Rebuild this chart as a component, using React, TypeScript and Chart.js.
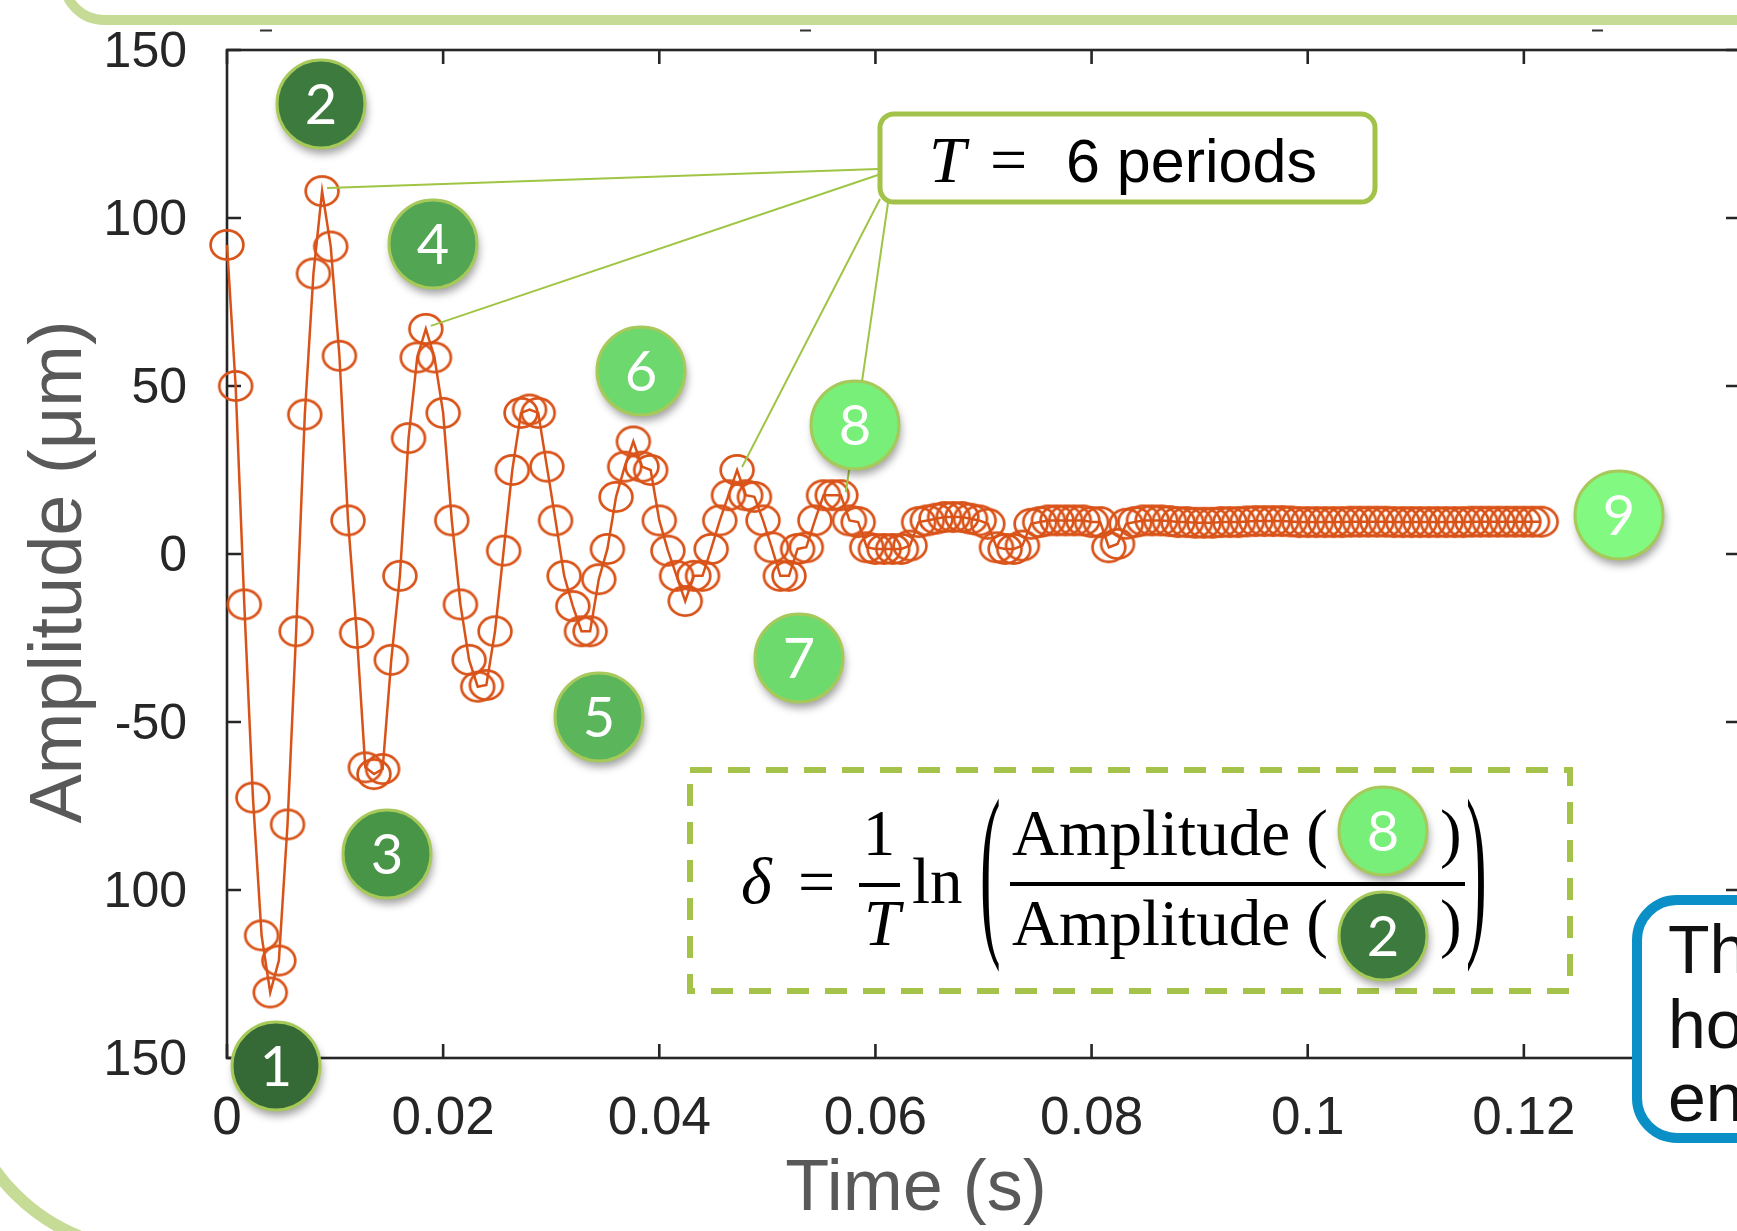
import React, { useEffect, useRef } from "react";
import { Chart, registerables } from "chart.js";

Chart.register(...registerables);

// ---------------- data ----------------
const SAMPLE_PERIOD_S = 0.0008;

const AMPLITUDE_UM: number[] = [
  92, 50, -15, -72.5, -113.5, -130.5, -121, -80.5, -23, 41.5,
  83.5, 108, 91.5, 59, 10, -23.5, -63.5, -65.5, -64, -31.5,
  -6.5, 34.5, 58.5, 67, 58.5, 42, 10, -15, -31.5, -39.5,
  -39, -23, 1, 25, 42, 43, 42, 26, 10, -6.5,
  -15.5, -23, -23, -7.5, 1.5, 17, 26, 33.5, 26, 25,
  10, 1, -6.5, -14, -6.5, -6.5, 1.5, 10, 17.5, 25,
  17.5, 17, 10, 2, -6.5, -6.5, 1.5, 2, 10, 17.5,
  17.5, 17.5, 10, 9.5, 2, 1.5, 1.5, 1.5, 1.5, 2.5,
  9.5, 10, 10.5, 11, 11, 11, 10.5, 10, 9, 2,
  1.5, 1.5, 2.5, 9, 9.5, 10, 10, 10, 10, 10,
  9.5, 9.5, 2, 3, 9, 9.5, 10, 10, 10, 9.8,
  9.5, 9.5, 9.3, 9.3, 9.3, 9.5, 9.5, 9.5, 9.7, 9.8,
  9.8, 9.8, 9.8, 9.7, 9.5, 9.5, 9.5, 9.5, 9.5, 9.5,
  9.6, 9.6, 9.6, 9.6, 9.6, 9.5, 9.5, 9.5, 9.5, 9.5,
  9.5, 9.5, 9.5, 9.5, 9.6, 9.6, 9.6, 9.6, 9.6, 9.6,
  9.6, 9.6, 9.6,
];

const X_TICK_VALUES = [0, 0.02, 0.04, 0.06, 0.08, 0.1, 0.12, 0.14];
const X_TICK_LABELS = ["0", "0.02", "0.04", "0.06", "0.08", "0.1", "0.12", "0.14"];
const Y_TICK_VALUES = [-150, -100, -50, 0, 50, 100, 150];
const Y_TICK_LABELS = ["150", "100", "-50", "0", "50", "100", "150"];

const X_TITLE = "Time (s)";
const Y_TITLE = "Amplitude (μm)";
const PERIOD_TEXT = "6 periods";
const FORMULA_WORD = "Amplitude (";
const SIDE_NOTE_LINES = ["Th", "ho", "en"];

// sample indices the "T = 6 periods" leader lines point to
const PERIOD_PEAK_INDICES = [11, 23, 59, 71];

const BADGE_LABELS = ["1", "2", "3", "4", "5", "6", "7", "8", "9"];

// ---------------- styles ----------------
const ORANGE = "#D95319";
const AXIS = "#262626";
const TITLE_GRAY = "#595959";
const LEAF = "#9FC545";
const PALE_LEAF = "#C6DC96";
const BADGE_FILLS = [
  "#356A36", "#3D7A3E", "#489548", "#52A552", "#5BB55B",
  "#6DD86D", "#6DDA6D", "#78EF78", "#82FA82",
];
const BADGE_POS: [number, number][] = [
  [276, 1066], [321, 104], [387, 854], [433, 244], [599, 717],
  [641, 371], [799, 658], [855, 425], [1619, 515],
];

function makeMarker(): HTMLCanvasElement {
  const c = document.createElement("canvas");
  c.width = 40;
  c.height = 36;
  const g = c.getContext("2d")!;
  g.strokeStyle = ORANGE;
  g.lineWidth = 2.7;
  g.beginPath();
  g.ellipse(20, 18, 16.4, 14.6, 0, 0, Math.PI * 2);
  g.stroke();
  return c;
}

function drawBadge(ctx: CanvasRenderingContext2D, x: number, y: number, fill: string, label: string, r = 44) {
  ctx.save();
  ctx.shadowColor = "rgba(0,0,0,0.38)";
  ctx.shadowBlur = 9;
  ctx.shadowOffsetX = 2;
  ctx.shadowOffsetY = 6;
  ctx.beginPath();
  ctx.ellipse(x, y, r, r, 0, 0, Math.PI * 2);
  ctx.fillStyle = fill;
  ctx.fill();
  ctx.restore();
  ctx.save();
  ctx.beginPath();
  ctx.ellipse(x, y, r, r, 0, 0, Math.PI * 2);
  ctx.lineWidth = 3;
  ctx.strokeStyle = "#A6C95A";
  ctx.stroke();
  ctx.fillStyle = "#FFFFFF";
  ctx.font = "56px Lato, 'Open Sans', sans-serif";
  ctx.textAlign = "center";
  ctx.textBaseline = "alphabetic";
  ctx.fillText(label, x, y + 20);
  ctx.restore();
}

function stretchedParen(ctx: CanvasRenderingContext2D, ch: string, x: number, top: number, bottom: number) {
  const size = 62;
  const s = (bottom - top) / (0.853 * size);
  const base = top + 0.676 * size * s;
  ctx.save();
  ctx.translate(x, base);
  ctx.scale(1, s);
  ctx.font = `${size}px 'Liberation Serif', serif`;
  ctx.textAlign = "left";
  ctx.textBaseline = "alphabetic";
  ctx.fillStyle = "#000";
  ctx.fillText(ch, 0, 0);
  ctx.restore();
}

const framePlugin = {
  id: "frame",
  beforeDatasetsDraw(chart: any) {
    const ctx: CanvasRenderingContext2D = chart.ctx;
    const { left, right, top, bottom } = chart.chartArea;
    const xs = chart.scales.x;
    const ys = chart.scales.y;
    ctx.save();
    ctx.strokeStyle = AXIS;
    ctx.lineWidth = 2.6;
    ctx.strokeRect(left, top, right - left, bottom - top);
    const tl = 14;
    ctx.beginPath();
    X_TICK_VALUES.forEach((v) => {
      const px = xs.getPixelForValue(v);
      ctx.moveTo(px, bottom);
      ctx.lineTo(px, bottom - tl);
      ctx.moveTo(px, top);
      ctx.lineTo(px, top + tl);
    });
    Y_TICK_VALUES.forEach((v) => {
      const py = ys.getPixelForValue(v);
      ctx.moveTo(left, py);
      ctx.lineTo(left + tl, py);
      ctx.moveTo(right, py);
      ctx.lineTo(right - tl, py);
    });
    ctx.stroke();
    ctx.restore();
  },
};

const overlayPlugin = {
  id: "overlay",
  afterDraw(chart: any) {
    const ctx: CanvasRenderingContext2D = chart.ctx;
    const xs = chart.scales.x;
    const ys = chart.scales.y;
    ctx.save();

    // decorative slide frames
    ctx.strokeStyle = PALE_LEAF;
    ctx.lineWidth = 10;
    ctx.beginPath();
    ctx.roundRect(64, -300, 2200, 320, 40);
    ctx.stroke();
    ctx.lineWidth = 12;
    ctx.beginPath();
    ctx.arc(150, 1060, 190, Math.PI / 2, Math.PI);
    ctx.stroke();

    // small stray dashes at the top
    ctx.strokeStyle = "#333";
    ctx.lineWidth = 2;
    ctx.beginPath();
    [[260, 272], [800, 811], [1592, 1603]].forEach(([a, b]) => {
      ctx.moveTo(a, 30.5);
      ctx.lineTo(b, 30.5);
    });
    ctx.stroke();

    // axis titles
    ctx.fillStyle = TITLE_GRAY;
    ctx.font = "72px 'Liberation Sans', Arial, sans-serif";
    ctx.textAlign = "center";
    ctx.textBaseline = "alphabetic";
    ctx.fillText(X_TITLE, 916, 1210);
    ctx.save();
    ctx.translate(81, 572);
    ctx.rotate(-Math.PI / 2);
    ctx.font = "74px 'Liberation Sans', Arial, sans-serif";
    ctx.fillText(Y_TITLE, 0, 0);
    ctx.restore();

    // leader lines for T
    const starts: [number, number][] = [[878, 169], [878, 175], [880, 199], [888, 203]];
    ctx.strokeStyle = LEAF;
    ctx.lineWidth = 2;
    ctx.beginPath();
    PERIOD_PEAK_INDICES.forEach((idx, k) => {
      const px = xs.getPixelForValue(idx * SAMPLE_PERIOD_S) + 5;
      const py = ys.getPixelForValue(AMPLITUDE_UM[idx]) - 3;
      ctx.moveTo(starts[k][0], starts[k][1]);
      ctx.lineTo(px, py);
    });
    ctx.stroke();

    // T box
    ctx.fillStyle = "#FFFFFF";
    ctx.strokeStyle = "#A2C24A";
    ctx.lineWidth = 5;
    ctx.beginPath();
    ctx.roundRect(880, 114, 495, 88, 14);
    ctx.fill();
    ctx.stroke();
    ctx.fillStyle = "#000";
    ctx.textAlign = "left";
    ctx.font = "italic 66px 'Liberation Serif', serif";
    ctx.fillText("T", 929, 182);
    ctx.font = "66px 'Liberation Serif', serif";
    ctx.fillText("=", 990, 182);
    ctx.font = "61px 'Liberation Sans', Arial, sans-serif";
    ctx.fillText(PERIOD_TEXT, 1066, 182);

    // formula dashed box
    ctx.strokeStyle = "#A5C34A";
    ctx.lineWidth = 6;
    ctx.setLineDash([22, 16]);
    ctx.strokeRect(690, 770, 880, 221);
    ctx.setLineDash([]);

    ctx.fillStyle = "#000";
    ctx.font = "italic 66px 'Liberation Serif', serif";
    ctx.fillText("δ", 741, 903);
    ctx.font = "66px 'Liberation Serif', serif";
    ctx.fillText("=", 798, 904);
    ctx.font = "65px 'Liberation Serif', serif";
    ctx.textAlign = "center";
    ctx.fillText("1", 879, 855);
    ctx.font = "italic 65px 'Liberation Serif', serif";
    ctx.fillText("T", 882, 945);
    ctx.fillRect(859, 883, 41, 4);
    ctx.textAlign = "left";
    ctx.font = "65px 'Liberation Serif', serif";
    ctx.fillText("ln", 912, 903);
    stretchedParen(ctx, "(", 980, 803, 965);
    stretchedParen(ctx, ")", 1466, 803, 965);
    ctx.font = "65px 'Liberation Serif', serif";
    ctx.fillText(FORMULA_WORD, 1012, 855);
    ctx.fillText(FORMULA_WORD, 1012, 945);
    ctx.fillText(")", 1440, 855);
    ctx.fillText(")", 1440, 945);
    ctx.fillRect(1010, 882, 455, 4);
    drawBadge(ctx, 1383, 831, BADGE_FILLS[7], BADGE_LABELS[7]);
    drawBadge(ctx, 1383, 936, BADGE_FILLS[1], BADGE_LABELS[1]);

    // numbered badges on the plot
    BADGE_LABELS.forEach((lab, k) => {
      drawBadge(ctx, BADGE_POS[k][0], BADGE_POS[k][1], BADGE_FILLS[k], lab);
    });

    // side note box (cropped)
    ctx.fillStyle = "#FFFFFF";
    ctx.strokeStyle = "#0A8FC6";
    ctx.lineWidth = 10;
    ctx.beginPath();
    ctx.roundRect(1637, 900, 400, 238, 40);
    ctx.fill();
    ctx.stroke();
    ctx.fillStyle = "#111";
    ctx.font = "68px 'Liberation Sans', Arial, sans-serif";
    ctx.textAlign = "left";
    const baselines = [973, 1048, 1121];
    SIDE_NOTE_LINES.forEach((t, k) => ctx.fillText(t, 1668, baselines[k]));

    ctx.restore();
  },
};

export default function App() {
  const ref = useRef<HTMLCanvasElement>(null);

  useEffect(() => {
    const canvas = ref.current;
    if (!canvas) return;
    const marker = makeMarker();
    const chart = new Chart(canvas, {
      type: "line",
      data: {
        datasets: [
          {
            data: AMPLITUDE_UM.map((y, i) => ({ x: i * SAMPLE_PERIOD_S, y })),
            borderColor: ORANGE,
            borderWidth: 2.5,
            pointStyle: marker as any,
            pointRadius: 16,
            pointHoverRadius: 16,
            tension: 0,
            fill: false,
            clip: false as any,
          },
        ],
      },
      options: {
        animation: false,
        responsive: false,
        devicePixelRatio: 1,
        events: [],
        layout: { autoPadding: false, padding: { left: 0, top: 50, right: 60, bottom: 0 } },
        plugins: { legend: { display: false }, tooltip: { enabled: false } },
        scales: {
          x: {
            type: "linear",
            min: 0,
            max: 0.14,
            afterBuildTicks: (axis: any) => {
              axis.ticks = X_TICK_VALUES.map((value) => ({ value }));
            },
            afterFit: (axis: any) => {
              axis.height = 173;
              axis.paddingLeft = 0;
              axis.paddingRight = 0;
              axis.paddingTop = 0;
              axis.paddingBottom = 0;
            },
            grid: { display: false },
            border: { display: false },
            ticks: {
              callback: (_v: any, i: number) => X_TICK_LABELS[i],
              font: { family: "'Liberation Sans', Arial, sans-serif", size: 53 },
              color: AXIS,
              padding: 22,
              maxRotation: 0,
              autoSkip: false,
            },
          },
          y: {
            type: "linear",
            min: -150,
            max: 150,
            afterBuildTicks: (axis: any) => {
              axis.ticks = Y_TICK_VALUES.map((value) => ({ value }));
            },
            afterFit: (axis: any) => {
              axis.width = 227;
              axis.paddingLeft = 0;
              axis.paddingRight = 0;
              axis.paddingTop = 0;
              axis.paddingBottom = 0;
            },
            grid: { display: false },
            border: { display: false },
            ticks: {
              callback: (_v: any, i: number) => Y_TICK_LABELS[i],
              font: { family: "'Liberation Sans', Arial, sans-serif", size: 50 },
              color: AXIS,
              padding: 32,
              labelOffset: 3,
              autoSkip: false,
            },
          },
        },
      },
      plugins: [framePlugin, overlayPlugin],
    });
    return () => chart.destroy();
  }, []);

  return (
    <div
      style={{
        position: "fixed",
        left: 0,
        top: 0,
        width: 1737,
        height: 1231,
        overflow: "hidden",
        background: "#FFFFFF",
      }}
    >
      <canvas ref={ref} width={1800} height={1231} style={{ display: "block" }} />
    </div>
  );
}
